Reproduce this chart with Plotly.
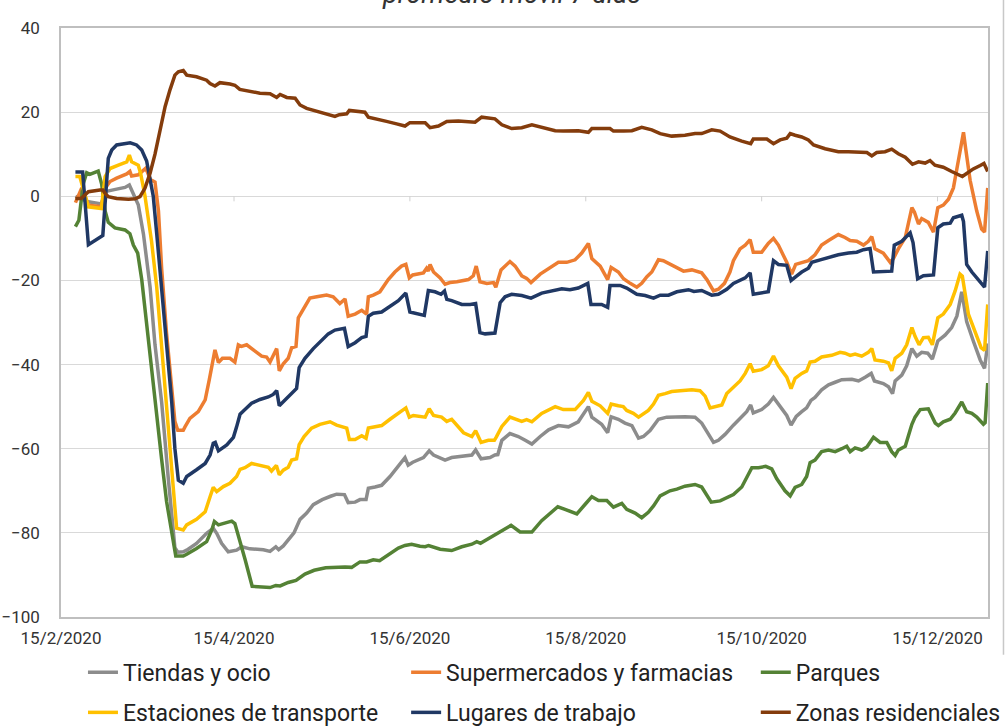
import pandas as pd
import plotly.graph_objects as go

START = pd.Timestamp("2020-02-15")

# (días desde 15/2/2020, valor %)
tiendas = [(5, 0), (7, -0.5), (9.5, -1.3), (14, -1.8), (15.3, 1.1), (19.3, 1.7), (22.2, 2.1), (23.7, 2.7), (24.5, 1.5), (25.7, 0), (26.8, -2), (28.6, -9), (30.9, -21.6), (32.6, -35.3), (34.9, -48.9), (37.2, -67), (39.5, -83.5), (40.5, -84.6), (42.4, -84.5), (43.6, -84.1), (47, -82.5), (50.5, -80.1), (52.8, -78.9), (54, -80.1), (55.7, -82.5), (58, -84.5), (60.9, -84.1), (62.7, -83.3), (65.5, -83.8), (70.2, -84), (72.5, -84.4), (74.5, -83.3), (75.5, -84), (77.1, -83.1), (79.4, -81.2), (80.8, -80), (82.9, -76.8), (85.2, -75.3), (87.5, -73.3), (90.6, -72.1), (93.5, -71.3), (95.6, -70.8), (98.3, -70.9), (99.6, -72.8), (102, -72.7), (103.7, -72.1), (105.8, -72.1), (106.6, -69.4), (108.9, -69.1), (111.2, -68.7), (114.1, -66.6), (116.4, -64.5), (119.3, -62.1), (120.4, -63.9), (122, -63.2), (125.7, -62.1), (127.7, -60.5), (129.2, -61.5), (133.2, -62.7), (135.5, -62.1), (139.6, -61.8), (142.5, -61.5), (143.8, -60.3), (145.7, -62.4), (148.8, -62.1), (150.5, -61.5), (151.5, -61.4), (152.9, -58), (155.7, -56.4), (158.6, -57.1), (161, -58), (163.3, -58.9), (166.2, -57.1), (169.1, -55.5), (172.5, -54.5), (176, -54.8), (179.4, -53.6), (182.9, -50), (184.1, -52.5), (187.5, -54.2), (189.6, -56.2), (190.8, -52.4), (193.3, -53), (195.6, -53.9), (198, -54.5), (200.3, -57.5), (202, -57.1), (204.3, -55.7), (207.2, -53), (210.1, -52.5), (216.4, -52.4), (219.9, -52.5), (222.2, -53.9), (224.5, -56.6), (226.3, -58.5), (228, -58), (230.3, -56.6), (233.2, -54.4), (236.1, -52.5), (237.8, -51.2), (239.2, -49.6), (240.1, -51.5), (243, -50.7), (245.3, -49.4), (247.1, -47.8), (249.4, -49.8), (251.7, -52.1), (253.2, -54.4), (255, -52.3), (256.9, -51.2), (258.6, -50.3), (260.1, -48.5), (261.5, -47.8), (263.8, -46), (266.2, -44.8), (268.5, -44.2), (270.8, -43.6), (274.3, -43.5), (276.6, -43.9), (278.9, -43), (281, -42.1), (282.1, -43.9), (285.2, -44.5), (287, -45.3), (288.4, -46.9), (289.3, -43.9), (291.6, -42.5), (293.3, -40.3), (295.1, -36.2), (296.8, -38), (298.5, -37.1), (300.6, -37.3), (302.2, -38.7), (304.1, -34.4), (306.6, -33), (308.9, -31.2), (310.7, -28.5), (312.4, -22.7), (314.1, -29.8), (316.4, -34.4), (318.8, -38.9), (320.3, -40.9), (321.4, -35)]

supermercados = [(5, -1.5), (7.2, 2), (9.5, -2.1), (14, -2.5), (15.3, 1.9), (17, 3.5), (19.3, 4.3), (22.8, 5.3), (23.9, 5.9), (24.5, 4.8), (26.8, 5.1), (28.6, 6.2), (29.4, 6.7), (31, 4), (32.6, 3.4), (33.8, -3.5), (34.9, -17.1), (36.6, -32.5), (38.4, -45.3), (39.5, -53.5), (40.5, -55.6), (42.4, -55.6), (43, -54.8), (44.7, -52.8), (47.6, -51.2), (50, -48.4), (51.4, -43.7), (52.3, -40), (53.4, -36.5), (54.6, -39.5), (56, -38.5), (58.6, -38.5), (60.3, -39.4), (61.5, -35.3), (62.6, -35.7), (64.4, -35.3), (66.7, -36.6), (69.6, -38), (71.3, -38.2), (72.5, -39.4), (74.8, -36.2), (75.7, -41.5), (77.1, -39.8), (78.8, -38.5), (80, -36), (81.5, -35.7), (82.3, -28.9), (83.5, -27.5), (86.3, -24.2), (88.7, -23.9), (92.1, -23.5), (94.4, -23.9), (96.7, -25.5), (98.5, -24.4), (99.6, -28.5), (102, -28), (104.3, -27.1), (106, -28), (106.6, -23.9), (108.3, -23.5), (110.6, -22.7), (113.5, -19.8), (115.8, -18), (118.1, -16.6), (119.6, -16.2), (120.8, -19.4), (122, -18.7), (125.7, -18.2), (126.8, -17.1), (127.4, -17.8), (128, -16.2), (129.2, -18), (131.5, -19.4), (133.2, -20.9), (134.9, -20.5), (137.3, -20.3), (141.3, -19.8), (143, -18.9), (144, -16.6), (145.3, -20.3), (147.7, -20.7), (150, -20.5), (150.8, -21.6), (152.6, -17.5), (155.7, -15.5), (157.5, -16.6), (159.8, -18.9), (161.5, -19.5), (163, -20.5), (166.2, -18.5), (169.6, -17.1), (172.5, -15.7), (175.4, -15.7), (178.3, -15.1), (180.6, -13.5), (182.9, -11.2), (184.1, -14.8), (187, -16.6), (189.6, -19.8), (190.8, -16.9), (193.3, -18), (195.1, -19.6), (197.4, -20.7), (199.7, -21.6), (201.4, -20.7), (203.2, -19.1), (204.9, -18), (207.2, -15.1), (208.9, -15.3), (211.2, -16.2), (213.6, -16.9), (215.9, -17.8), (218.8, -17.5), (222.2, -18.2), (224, -19.8), (226.3, -22.5), (228, -22.1), (230.1, -20.7), (232, -18), (233.2, -15.3), (235.5, -12.5), (237.3, -11.6), (239, -10.3), (240.1, -13.3), (243, -13.3), (245.3, -11.2), (247.1, -10), (248.8, -11.6), (251.7, -15.7), (253.4, -18.5), (254.8, -16.2), (256.9, -15.7), (259.2, -15.3), (261.5, -13.9), (263.8, -11.6), (266.2, -10.5), (269.6, -9.1), (271.9, -9.8), (273.7, -10.5), (276, -10.7), (278.3, -11.6), (280, -10.7), (281.2, -9.6), (282.3, -12.5), (285.2, -13.5), (287.6, -15.7), (288.7, -14.8), (290.4, -12.5), (292.8, -9.8), (295.1, -2.7), (296, -3.8), (297.4, -6.6), (298.5, -5.3), (300.8, -6.2), (302.6, -8.5), (304.1, -2.7), (306, -2.1), (307.8, -0.7), (309.5, 2), (311.2, 8.4), (313, 15.2), (313.8, 11.1), (315.3, 3.8), (317.6, -3.5), (319.3, -7.8), (320.3, -8.5), (321.4, 2)]

parques = [(5, -7.2), (6.2, -5.7), (7.7, 2.9), (8.9, 5.6), (10, 5.2), (11.8, 5.6), (12.9, 6), (14.1, 2.9), (15.3, -3.5), (16.4, -6.2), (18.7, -7.5), (22.2, -8), (23.9, -8.9), (25.1, -11.6), (26.6, -13.5), (28, -19.8), (29.7, -30.7), (31.4, -39.8), (32.6, -48.9), (34.9, -62.5), (36.6, -72.5), (39, -82.5), (39.8, -85.5), (42.4, -85.5), (43.6, -85.1), (47, -83.7), (50.5, -82.1), (52.3, -79.3), (53.2, -77.3), (54.6, -78.1), (56.9, -77.7), (59.2, -77.2), (60.3, -77.8), (61.5, -80.5), (63.8, -86.2), (66.3, -92.7), (70.2, -92.9), (72.5, -93), (74.5, -92.5), (76, -92.6), (78.8, -91.8), (81.5, -91.3), (84.6, -89.8), (87.8, -88.9), (91.8, -88.3), (95.6, -88.1), (98.5, -88.1), (100.8, -88.2), (103.7, -86.9), (106, -86.9), (108.3, -86.4), (110.5, -86.6), (114.1, -84.9), (117, -83.6), (119.3, -83), (121.6, -82.7), (124.5, -83.2), (126.3, -83.3), (127.5, -83), (131.5, -83.9), (135.5, -84.2), (139, -83.3), (142.5, -82.7), (144.2, -82.1), (145.5, -82.5), (147.7, -81.6), (150.5, -80.5), (153.4, -79.1), (156.1, -78.2), (159.2, -79.8), (163.3, -79.8), (166.7, -77.1), (169.6, -75.5), (172.3, -73.8), (174.8, -74.4), (178.9, -75.5), (181.8, -73.2), (184.1, -71.4), (186.4, -72.3), (189.3, -72.3), (191.6, -73.9), (194.5, -73), (196.2, -74.4), (199.1, -75.3), (201.4, -76.4), (203.7, -75.1), (205.5, -73.6), (207.8, -71.2), (211.2, -70), (213.6, -69.6), (216.4, -68.9), (219.9, -68.5), (222.2, -69.1), (224, -71.2), (225.5, -72.7), (228.6, -72.4), (230.9, -71.6), (233.2, -70.9), (236.1, -69.1), (237.8, -66.9), (239.6, -64.5), (241.9, -64.5), (244.4, -64.2), (246.5, -64.8), (248.2, -67.1), (251.1, -70), (252.9, -71.2), (254.6, -69.2), (256.9, -68.5), (258.6, -66.6), (259.8, -63.3), (261.5, -62.7), (263.8, -60.7), (266.2, -60.3), (268.5, -60.7), (270.8, -60), (272.5, -59.4), (273.7, -60.7), (275.4, -59.8), (277.7, -60.3), (279.5, -59.6), (281.8, -57.3), (284.1, -58.5), (286.4, -58.5), (288.1, -60.7), (289.3, -61.6), (290.4, -60.3), (292.8, -59.4), (295.1, -54.2), (296.2, -52.5), (298, -50.7), (300.8, -50.5), (303.2, -53.9), (304.3, -54.5), (306, -53.6), (308.4, -53), (310.1, -51.5), (312.4, -48.9), (314.1, -51.2), (315.9, -51.6), (317.6, -52.5), (319.9, -54.2), (320.5, -53.8), (321.4, -44.4)]

estaciones = [(5, 4.7), (6.5, 4.7), (9.5, -2.5), (14, -2.9), (15.3, 4.7), (17, 6.6), (19.9, 7.4), (22.8, 8.2), (23.7, 9.8), (24.5, 8.2), (26.8, 7.4), (27.6, 5.5), (29.1, 0.2), (31.4, -10.7), (33.2, -21.6), (34.9, -35.3), (37.2, -53.5), (39, -68.9), (40.1, -78.9), (42.4, -79.3), (43.6, -78.1), (47, -76.8), (50, -75), (51.7, -71.4), (52.8, -69.2), (54, -70.2), (56.3, -69), (58.6, -68.2), (60.9, -66.6), (62.1, -64.9), (63.8, -64.5), (66.1, -63.5), (68.4, -63.9), (71.9, -64.4), (73, -65.3), (74.7, -64), (75.7, -66.2), (77.1, -65.1), (78.8, -64.4), (80, -62.7), (81.7, -62.4), (82.6, -59), (84.3, -57.1), (86.9, -55.1), (89.8, -54.2), (93.3, -53.6), (95.6, -54.4), (97.3, -54.8), (99.1, -55.1), (100, -57.8), (102, -57.8), (104.3, -56.9), (105.8, -57.5), (106.6, -55.1), (108.3, -54.8), (111.2, -54.5), (114.1, -53), (117, -51.5), (119.6, -50.3), (120.8, -52.5), (122.2, -52.1), (126.3, -52.5), (127.7, -50.5), (129.2, -52.1), (132, -52.5), (133.8, -53.5), (135.5, -53), (139.6, -56.2), (142.5, -57.1), (143.8, -55.7), (145.7, -58.5), (148.2, -58), (150.3, -58), (151, -57.2), (152.9, -54.7), (155.7, -52.5), (157.5, -53), (159.8, -53.5), (161.5, -53.1), (163.3, -53.6), (166.7, -51.6), (171.4, -50), (174.2, -50.7), (178.3, -50.7), (181.2, -48.5), (182.9, -46.6), (184.1, -48.7), (187, -49.8), (189.6, -51.6), (190.8, -49.4), (193.3, -49.8), (195, -50), (196.2, -50.9), (198.5, -51.6), (200.3, -52.5), (202, -51.6), (203.7, -50.9), (205.5, -49.4), (207.2, -47.3), (209.5, -46.9), (211.8, -46.4), (214.7, -46.2), (218.8, -46), (221.6, -46.2), (223.4, -47.5), (225.1, -50.3), (226.9, -50), (229.2, -49.6), (230.9, -46.9), (233.2, -45.5), (235.5, -43.9), (237.3, -42.1), (239, -39.8), (240.1, -41.6), (243, -41.2), (245.3, -40.3), (247.1, -38), (248.8, -40.3), (251.7, -43), (253.2, -45.7), (254.6, -43.3), (256.9, -42.1), (258.6, -41.5), (259.8, -39.4), (261.5, -39.2), (263.8, -38.2), (267.3, -37.8), (270.2, -37.1), (271.9, -37.3), (273.7, -37.8), (275.4, -37.5), (277.7, -38), (280, -37.1), (281.2, -36.2), (282.3, -38.9), (285.2, -39.2), (287, -39.6), (288.1, -41.5), (289.3, -38.5), (291.6, -37.3), (293.3, -35.3), (295.1, -31.2), (296.2, -33.3), (297.6, -35.3), (299.1, -33.6), (300.8, -33.5), (302.2, -35.3), (304.1, -28.9), (306, -28), (308.4, -25.7), (310.1, -22.5), (311.8, -18.5), (312.6, -19), (314.7, -28), (317, -32.5), (319.1, -36), (320.3, -36.6), (321.4, -25.7)]

lugares = [(5, 5.8), (7.5, 5.8), (9.5, -11.5), (14.5, -9.3), (16.4, 9), (17.6, 11), (19.3, 12.2), (22.8, 12.6), (24, 12.7), (26.2, 12.2), (28, 11), (29.7, 8.4), (31, 4), (32, 0), (33.2, -8.9), (34.9, -21.6), (36.6, -35.3), (38.4, -48.9), (39.5, -60), (40.7, -67.5), (42.4, -68.2), (43.6, -66.6), (47, -65), (50, -63.5), (51.7, -61.5), (52.8, -58.7), (53.5, -58.5), (54.6, -60.5), (57.5, -59.1), (59.8, -57.3), (60.9, -54.8), (62.1, -51.8), (63.8, -50.7), (66.1, -49.2), (69, -48.3), (71.9, -47.7), (73.6, -47.1), (74.8, -46.2), (75.7, -49.8), (77.7, -48.5), (80, -46.9), (81.7, -45.7), (82.6, -40.7), (84.6, -38.5), (87.5, -36.2), (90.4, -34.4), (92.7, -32.7), (95, -31.8), (98.3, -31.4), (99.6, -35.7), (102, -34.8), (104.3, -33.6), (105.8, -33.3), (106.6, -28.5), (108.3, -27.8), (111.2, -27.5), (114.1, -26.2), (117, -24.8), (119.6, -23), (121, -27.5), (126, -28.3), (127.4, -22.4), (129.7, -22.7), (131.8, -23.3), (133, -22.5), (133.8, -24.5), (135.5, -24.8), (139, -25.7), (141.9, -25.7), (143.8, -25.5), (145.3, -32.4), (147.1, -32.7), (150.5, -32.5), (152.3, -25.3), (154, -23.9), (156.3, -23.3), (159.8, -23.6), (163, -24.2), (166.7, -23), (171.4, -22.4), (173.7, -22), (176.5, -22.2), (179.4, -21.8), (182.7, -20.7), (183.8, -25.7), (187.5, -25.7), (189.6, -26.4), (190.4, -21.2), (193.9, -21.2), (196.2, -21.8), (199.7, -23.3), (202.6, -23.6), (205.5, -24.2), (207.8, -23.5), (210.7, -23.5), (213.6, -22.7), (217.6, -22.2), (219.5, -22.6), (222.2, -22.4), (225.7, -23.5), (228, -23.3), (230.9, -22.1), (233.2, -20.7), (237.3, -19.4), (239, -18.2), (240.1, -23.3), (245.3, -22.7), (247.1, -15.3), (248.8, -16.2), (251.7, -16.4), (253.2, -20), (255.2, -18.9), (256.9, -18), (259.2, -17.1), (260.4, -15.7), (263.3, -15.1), (266.2, -14.5), (269.6, -13.9), (273.1, -13.5), (276, -13.3), (278.3, -12.7), (280.6, -12.4), (281.8, -18), (285.8, -18), (288.1, -17.8), (289, -11.6), (291.6, -10.7), (294.5, -8.7), (295.5, -11), (297.1, -19.6), (299.1, -18.9), (302.6, -18.7), (304.1, -7.5), (306, -6.6), (308.4, -6.4), (309.5, -5.1), (312.4, -4.5), (313, -6), (314.1, -16.2), (315.9, -18), (318.2, -19.8), (320.3, -21.6), (321.4, -13)]

residencial = [(5, -0.5), (7, -0.5), (8.3, 0.3), (9.5, 1.1), (13.5, 1.5), (14.5, 1.5), (15.3, 0.7), (16.4, -0.1), (19.3, -0.5), (23.4, -0.7), (25.7, -0.6), (27.4, -0.1), (29.1, 1.9), (30.9, 5.5), (32.6, 10), (34.3, 16), (36.1, 21.3), (37.8, 25.3), (39.5, 28.8), (40.7, 29.6), (42.4, 29.9), (43.6, 28.8), (47, 28.4), (50.5, 27.6), (51.7, 26.8), (53.4, 26.2), (55.1, 27), (58.6, 26.7), (60.3, 26.4), (62, 25.4), (65.5, 25), (69, 24.5), (72.5, 24.4), (74.8, 23.5), (76, 24.2), (78.3, 23.5), (81.2, 23.3), (82.9, 21.7), (85.2, 20.9), (88.7, 20.2), (92.1, 19.5), (95, 19), (96.5, 19.4), (99.1, 19.6), (100, 20.4), (102.3, 20.2), (105.4, 20), (106.6, 18.8), (109.5, 18.4), (112.9, 17.8), (116.4, 17.2), (119.3, 16.7), (121, 17.5), (126.3, 17.5), (128, 16.3), (130.9, 16.7), (133.8, 17.8), (137.8, 17.9), (143.6, 17.6), (145.9, 18.8), (150.5, 18.4), (152.9, 17), (156.3, 16.1), (159.8, 16.3), (163.3, 17), (166.7, 16.4), (171.4, 15.6), (174.2, 15.5), (179.4, 15.6), (182.9, 15.2), (184.1, 16.1), (190.4, 16.1), (191.6, 15.5), (195.1, 15.5), (198, 15.6), (201.4, 16.4), (204.9, 15.8), (207.8, 14.9), (211.8, 14.3), (216.4, 14.5), (219.9, 14.9), (222.2, 14.9), (225.7, 15.8), (228.6, 15.5), (232, 14.1), (236.1, 13.1), (239.2, 12.5), (240.1, 13.6), (244.8, 13.6), (247.1, 12.5), (249.4, 13.4), (251.7, 13.8), (252.9, 14.9), (254.6, 14.5), (256.9, 14.1), (259.2, 13.4), (261, 12.2), (265, 11.3), (269.6, 10.6), (273.1, 10.6), (279.5, 10.4), (281.2, 9.6), (282.9, 10.4), (285.8, 10.6), (288.1, 11.2), (290.4, 10.1), (292.8, 9.3), (295.3, 7.6), (297.4, 8.2), (299.7, 7.9), (301.4, 8.5), (303.1, 7.4), (306, 6.9), (308.9, 5.9), (311.2, 5.2), (312.6, 4.7), (314.1, 5.4), (316.4, 6.5), (318.8, 7.3), (320.1, 7.8), (321.4, 5.9)]

tick_fechas = ["2020-02-15", "2020-04-15", "2020-06-15", "2020-08-15", "2020-10-15", "2020-12-15"]
tick_textos = ["15/2/2020", "15/4/2020", "15/6/2020", "15/8/2020", "15/10/2020", "15/12/2020"]

series = [
    ("Tiendas y ocio", tiendas, "#8c8c8c", "legend", 0.0237, -0.094),
    ("Supermercados y farmacias", supermercados, "#ED7D31", "legend2", 0.3723, -0.094),
    ("Parques", parques, "#548235", "legend3", 0.7495, -0.094),
    ("Estaciones de transporte", estaciones, "#FFC000", "legend4", 0.0237, -0.162),
    ("Lugares de trabajo", lugares, "#203864", "legend5", 0.3723, -0.162),
    ("Zonas residenciales", residencial, "#843C0C", "legend6", 0.7495, -0.162),
]

fig = go.Figure()
legend_cfg = {}
for name, pts, color, lg, lx, ly in series:
    dias = [p[0] for p in pts]
    vals = [p[1] for p in pts]
    fechas = START + pd.to_timedelta(dias, unit="D")
    fig.add_trace(go.Scatter(x=fechas, y=vals, mode="lines", name=name,
                             line=dict(color=color, width=3.5), legend=lg))
    legend_cfg[lg] = dict(x=lx, y=ly, xanchor="left", yanchor="middle",
                          bgcolor="rgba(0,0,0,0)", borderwidth=0,
                          font=dict(family="Roboto", size=23, color="#222222"))

# small tick marks on the zero line
for t in tick_fechas[1:]:
    fig.add_shape(type="line", xref="x", yref="y", x0=t, x1=t, y0=0, y1=-1.2,
                  line=dict(color="#d0d0d0", width=1))

# chart-area border at the right
fig.add_shape(type="line", xref="paper", yref="paper", x0=1.0167, x1=1.0167,
              y0=-0.064, y1=1.06, line=dict(color="#c8c8c8", width=1.5))

# title: only its lower part shows at the top edge, as in the reference
fig.add_annotation(text="<i>promedio móvil 7 días</i>", xref="paper", yref="paper",
                   x=0.4865, y=1.058, xanchor="center", yanchor="middle",
                   showarrow=False, font=dict(family="Roboto", size=27, color="#333333"))

fig.update_layout(
    width=1007, height=726,
    margin=dict(l=61, r=19, t=28, b=109, autoexpand=False),
    paper_bgcolor="white", plot_bgcolor="white",
    showlegend=True,
    **legend_cfg,
    xaxis=dict(type="date", automargin=False,
               range=["2020-02-15", "2021-01-01 12:00"],
               tickvals=tick_fechas, ticktext=tick_textos,
               showgrid=False, zeroline=False,
               showline=True, linecolor="#bfbfbf", linewidth=1.5, mirror=True,
               ticks="", ticklabelstandoff=5,
               tickfont=dict(family="Roboto", size=17, color="#333333")),
    yaxis=dict(range=[-100, 40], dtick=20, tick0=0, automargin=False,
               showgrid=True, gridcolor="#d9d9d9", gridwidth=1,
               zeroline=True, zerolinecolor="#d9d9d9", zerolinewidth=1,
               showline=True, linecolor="#bfbfbf", linewidth=1.5, mirror=True,
               ticks="", ticklabelstandoff=16,
               tickfont=dict(family="Roboto", size=17, color="#333333")),
)

# remove the browser's default 8px page margin so the figure fills the window
fig.write_html("out.html",
               config={"displayModeBar": False},
               post_script="document.body.style.margin='0';document.body.style.overflow='hidden';")
